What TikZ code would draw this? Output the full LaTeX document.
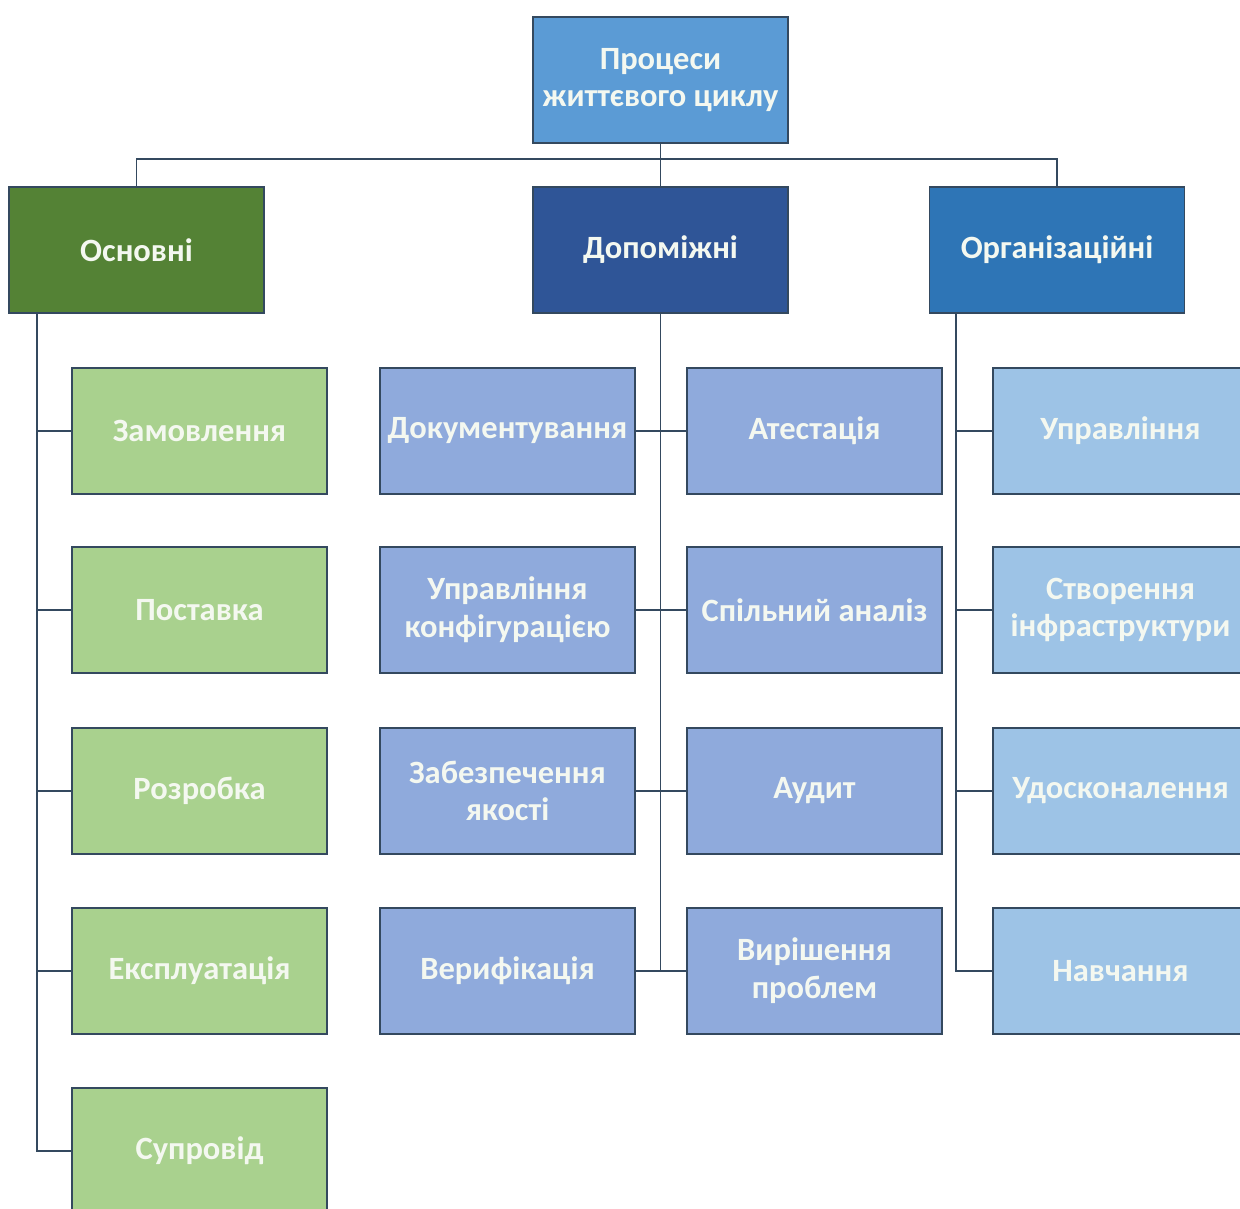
\documentclass[tikz,border=0pt]{standalone}
\usepackage{fontspec}
\setmainfont{Carlito}
\definecolor{topc}{HTML}{5B9BD5}
\definecolor{osnc}{HTML}{548235}
\definecolor{dopc}{HTML}{2F5597}
\definecolor{orgc}{HTML}{2E75B6}
\definecolor{grc}{HTML}{A9D18E}
\definecolor{midc}{HTML}{8FAADC}
\definecolor{rtc}{HTML}{9DC3E6}
\definecolor{edgec}{HTML}{34495F}
\definecolor{txtc}{HTML}{F4F8F0}
\begin{document}
\begin{tikzpicture}[x=0.02cm,y=-0.02cm,
  box/.style={draw=edgec, line width=0.8pt, rectangle, inner sep=0pt,
    minimum width=5.1cm, minimum height=2.52cm, align=center,
    text=txtc, font=\fontsize{18.5}{21.5}\selectfont\bfseries},
  topbox/.style={box, fill=topc},
  osnbox/.style={box, fill=osnc},
  dopbox/.style={box, fill=dopc},
  orgbox/.style={box, fill=orgc},
  grbox/.style={box, fill=grc},
  midbox/.style={box, fill=midc},
  rtbox/.style={box, fill=rtc},
  link/.style={draw=edgec, line width=0.8pt}]
\useasboundingbox (0,0) rectangle (1240,1209);
\clip (0,0) rectangle (1240,1209);
\fill[white] (0,0) rectangle (1240,1209);

\node[topbox] (top) at (660.5,80) {Процеси\\життєвого циклу};
\node[osnbox] (osn) at (136.5,250) {Основні};
\node[dopbox] (dop) at (660.5,250) {Допоміжні};
\node[orgbox] (org) at (1057,250) {Організаційні};

\node[grbox] (g1) at (199.5,431) {Замовлення};
\node[grbox] (g2) at (199.5,610) {Поставка};
\node[grbox] (g3) at (199.5,791) {Розробка};
\node[grbox] (g4) at (199.5,971) {Експлуатація};
\node[grbox] (g5) at (199.5,1151) {Супровід};

\node[midbox] (ml1) at (507.5,431) {Документування};
\node[midbox] (ml2) at (507.5,610) {Управління\\конфігурацією};
\node[midbox] (ml3) at (507.5,791) {Забезпечення\\якості};
\node[midbox] (ml4) at (507.5,971) {Верифікація};
\node[midbox] (mr1) at (814.5,431) {Атестація};
\node[midbox] (mr2) at (814.5,610) {Спільний аналіз};
\node[midbox] (mr3) at (814.5,791) {Аудит};
\node[midbox] (mr4) at (814.5,971) {Вирішення\\проблем};

\node[rtbox] (r1) at (1120.5,431) {Управління};
\node[rtbox] (r2) at (1120.5,610) {Створення\\інфраструктури};
\node[rtbox] (r3) at (1120.5,791) {Удосконалення};
\node[rtbox] (r4) at (1120.5,971) {Навчання};

% top level connectors
\coordinate (bar) at (660.5,159);
\draw[link] (top.south) -- (dop.north);
\draw[link] (bar) -| (osn.north);
\draw[link] (bar) -| (org.north);

% Основні spine
\coordinate (ospine) at (37,314);
\foreach \n in {g1,g2,g3,g4,g5} \draw[link] (ospine) |- (\n.west);

% Допоміжні spine
\draw[link] (dop.south) -- (dop.south |- mr4.west);
\foreach \i in {1,2,3,4} \draw[link] (ml\i.east) -- (mr\i.west);

% Організаційні spine
\coordinate (rspine) at (956,314);
\foreach \n in {r1,r2,r3,r4} \draw[link] (rspine) |- (\n.west);
\end{tikzpicture}
\end{document}
